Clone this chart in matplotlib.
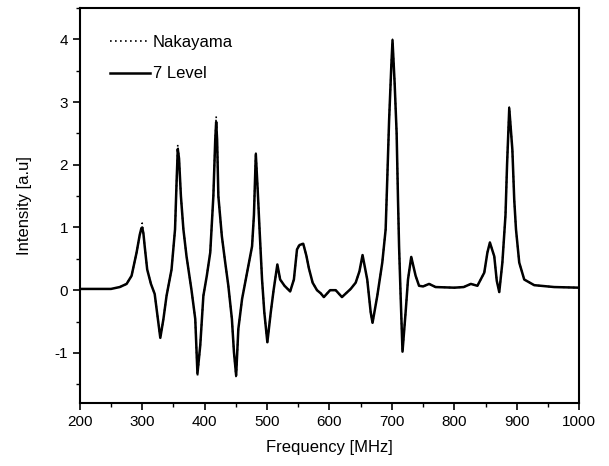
import matplotlib
matplotlib.use('Agg')
import matplotlib.pyplot as plt
from matplotlib.ticker import MultipleLocator

plt.rcParams['font.family'] = ['Liberation Sans', 'DejaVu Sans']
plt.rcParams['axes.unicode_minus'] = False

# values
freq = [200, 230, 250, 264, 275, 283, 291, 296, 298.5, 300, 302, 304, 308, 314, 320,
        325, 329, 334, 339, 347, 352.6, 355, 357, 359, 362, 366, 371, 379, 385,
        388.5, 393, 398, 403.5, 409, 414, 417, 418.5, 420, 422, 427.6, 433, 438,
        443.7, 447, 450.5, 454, 460, 468, 476, 479, 482, 485, 488, 492, 495.6,
        500.5, 506, 510.5, 516.5, 521, 528, 537, 543, 548, 552, 558, 563, 567, 573,
        580, 586, 591, 601, 610, 620, 634, 642, 648, 653, 660.5, 666, 669, 676.6,
        684.6, 690, 693, 695.5, 699, 701, 704.4, 707.6, 709.8, 711.5, 714, 717, 722,
        725.8, 731, 738, 743.5, 750, 759.6, 770, 800, 815, 826.5, 837, 848, 853,
        857, 864, 868, 872, 877, 882, 884.5, 888, 893, 896, 898.8, 904, 912, 928,
        960, 1000]
level7 = [0.02, 0.02, 0.02, 0.05, 0.1, 0.23, 0.6, 0.88, 0.98, 1.0, 0.9, 0.7, 0.33,
          0.1, -0.06, -0.45, -0.76, -0.46, -0.09, 0.33, 0.97, 1.7, 2.25, 2.1, 1.5,
          0.97, 0.54, 0.0, -0.46, -1.33, -0.88, -0.09, 0.23, 0.6, 1.5, 2.4, 2.68,
          2.4, 1.5, 0.86, 0.44, 0.07, -0.46, -0.99, -1.36, -0.62, -0.14, 0.28, 0.7,
          1.2, 2.17, 1.6, 0.97, 0.17, -0.35, -0.83, -0.35, 0.0, 0.41, 0.17, 0.07,
          -0.02, 0.17, 0.65, 0.72, 0.74, 0.55, 0.35, 0.12, 0.0, -0.05, -0.11, 0.0,
          0.0, -0.11, 0.02, 0.12, 0.3, 0.56, 0.17, -0.35, -0.52, -0.09, 0.44, 0.97,
          1.9, 2.7, 3.56, 3.98, 3.3, 2.5, 1.44, 0.7, -0.09, -0.98, -0.35, 0.17, 0.53,
          0.23, 0.07, 0.06, 0.1, 0.05, 0.04, 0.05, 0.1, 0.07, 0.28, 0.6, 0.76, 0.54,
          0.15, -0.03, 0.44, 1.2, 2.0, 2.9, 2.24, 1.44, 0.97, 0.44, 0.17, 0.08, 0.05,
          0.04]
# the dotted curve sits on the solid one, except at a few tips
nakayama_tips = {300: 1.07, 357: 2.32, 388.5: -1.37, 418.5: 2.77, 450.5: -1.4,
                 482: 2.2, 552: 0.74, 701: 4.0, 888: 2.92}
nakayama = [nakayama_tips.get(f, v) for f, v in zip(freq, level7)]

fig = plt.figure(figsize=(6.09, 4.66), dpi=100)
ax = fig.add_axes([0.131, 0.135, 0.82, 0.848])

ax.plot(freq, level7, color='black', lw=1.8, label='7 Level')
ax.plot(freq, nakayama, color='black', lw=1.2, ls=(0, (1, 2)), label='Nakayama')

ax.set_xlim(200, 1000)
ax.set_ylim(-1.8, 4.5)
ax.xaxis.set_major_locator(MultipleLocator(100))
ax.xaxis.set_minor_locator(MultipleLocator(50))
ax.yaxis.set_major_locator(MultipleLocator(1))
ax.yaxis.set_minor_locator(MultipleLocator(0.5))
ax.tick_params(which='major', direction='out', length=5, width=1.2, labelsize=11)
ax.tick_params(which='minor', direction='out', length=3, width=1)
for s in ax.spines.values():
    s.set_linewidth(1.5)

ax.set_xlabel('Frequency [MHz]', fontsize=12, labelpad=8)
ax.set_ylabel('Intensity [a.u]', fontsize=12, labelpad=16)

h, l = ax.get_legend_handles_labels()
ax.legend(h[::-1], l[::-1], loc='upper left', bbox_to_anchor=(0.03, 0.97),
          frameon=False, fontsize=12, handlelength=2.4, handletextpad=0.2,
          labelspacing=1.0)

fig.savefig('out.png', dpi=100)
